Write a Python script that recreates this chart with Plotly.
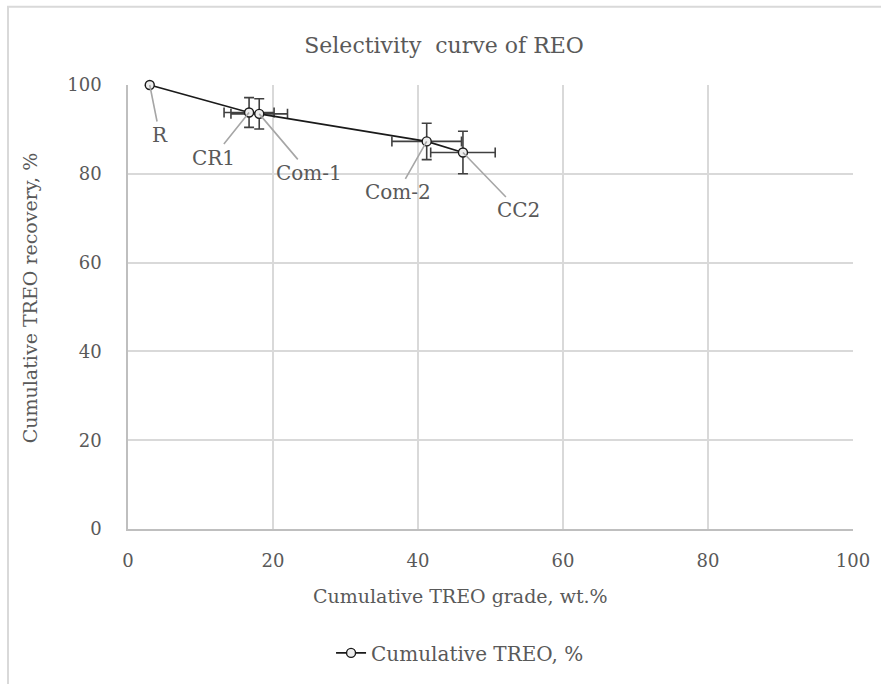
import plotly.graph_objects as go

# Cumulative TREO grade (wt.%) and recovery (%) per product stage
stages = ["R", "CR1", "Com-1", "Com-2", "CC2"]
grade = [3.0, 16.7, 18.1, 41.2, 46.2]
recovery = [100.0, 93.8, 93.5, 87.3, 84.8]
grade_err = [0.0, 3.45, 3.9, 4.8, 4.45]
recovery_err = [0.0, 3.35, 3.4, 4.1, 4.8]

# Label offsets (pixels) for the leader-line callouts
label_dx = [10, -36, 50, -29, 56]
label_dy = [50, 45, 59, 51, 58]

FONT = "DejaVu Serif"
TXT = "#595959"
GRID = "#d9d9d9"

fig = go.Figure()
fig.add_trace(go.Scatter(
    x=grade, y=recovery,
    mode="lines+markers",
    name="Cumulative TREO, %",
    cliponaxis=False,
    line=dict(color="#1a1a1a", width=1.6),
    marker=dict(size=9, color="#eeeeee", line=dict(color="#1a1a1a", width=1.4)),
    error_x=dict(type="data", array=grade_err, color="#404040", thickness=1.6, width=5),
    error_y=dict(type="data", array=recovery_err, color="#404040", thickness=1.6, width=5),
))

for name, gx, ry, dx, dy in zip(stages, grade, recovery, label_dx, label_dy):
    fig.add_annotation(
        x=gx, y=ry, text=name, showarrow=True, arrowhead=0,
        arrowcolor="#a6a6a6", arrowwidth=1.6, ax=dx, ay=dy,
        font=dict(family=FONT, size=20, color=TXT),
    )

# Axis titles
fig.add_annotation(
    text="Cumulative TREO grade, wt.%", xref="paper", yref="paper",
    x=0.458, y=-0.15, xanchor="center", yanchor="middle", showarrow=False,
    font=dict(family=FONT, size=19, color=TXT),
)
fig.add_annotation(
    text="Cumulative TREO recovery, %", xref="paper", yref="paper",
    x=-0.135, y=0.52, xanchor="center", yanchor="middle", showarrow=False,
    textangle=-90, font=dict(family=FONT, size=19, color=TXT),
)

# Chart frame
fig.add_shape(
    type="rect", xref="paper", yref="paper",
    x0=-0.1655, x1=1.2, y0=-0.6, y1=1.176,
    line=dict(color="#d9d9d9", width=2), fillcolor="rgba(0,0,0,0)", layer="below",
)

fig.update_layout(
    width=881, height=684,
    margin=dict(l=128, r=28, t=85, b=151),
    paper_bgcolor="white", plot_bgcolor="white",
    title=dict(
        text="Selectivity  curve of REO", x=0.504, xanchor="center",
        y=0.934, yanchor="middle",
        font=dict(family=FONT, size=22, color=TXT),
    ),
    showlegend=True,
    legend=dict(
        orientation="h", x=0.458, xanchor="center", y=-0.279, yanchor="middle",
        font=dict(family=FONT, size=20, color=TXT), bgcolor="rgba(0,0,0,0)",
    ),
    font=dict(family=FONT, color=TXT),
)
fig.update_xaxes(
    range=[0, 100], dtick=20, showgrid=True, gridcolor=GRID, gridwidth=1.5,
    showline=True, linecolor="#bfbfbf", linewidth=1.5, mirror=False,
    zeroline=False, ticks="outside", ticklen=15, tickcolor="rgba(0,0,0,0)",
    tickfont=dict(family=FONT, size=18, color=TXT),
)
fig.update_yaxes(
    range=[0, 100], dtick=20, showgrid=True, gridcolor=GRID, gridwidth=1.5,
    showline=True, linecolor="#bfbfbf", linewidth=1.5,
    zeroline=False, ticks="outside", ticklen=21, tickcolor="rgba(0,0,0,0)",
    tickfont=dict(family=FONT, size=18, color=TXT),
)

fig.write_html("out.html")
